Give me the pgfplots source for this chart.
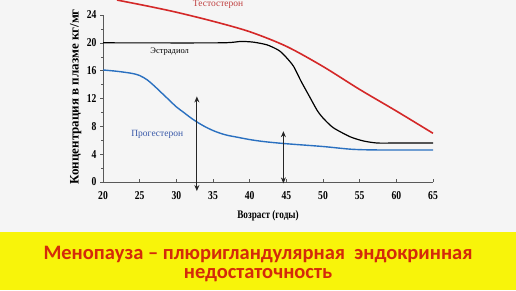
\documentclass[border=0pt]{standalone}
\usepackage{pgfplots}
\pgfplotsset{compat=1.18}
\usetikzlibrary{arrows.meta}
\usepackage{fontspec}
\setmainfont{Liberation Serif}
\newfontfamily\cond[FakeStretch=0.8]{Liberation Serif}
\newfontfamily\titlefont{Carlito}
\definecolor{bg}{HTML}{F5F5F5}
\definecolor{yel}{HTML}{F8F40A}
\definecolor{titred}{HTML}{D42A0A}
\definecolor{lred}{HTML}{D42828}
\definecolor{lblue}{HTML}{2A70C0}
\definecolor{tred}{HTML}{C04040}
\definecolor{tblue}{HTML}{3858A8}
\begin{document}
\begin{tikzpicture}[x=1pt,y=1pt]
\useasboundingbox (0,0) rectangle (516,290);
\fill[bg] (0,0) rectangle (516,290);
\fill[yel] (0,0) rectangle (516,58);
\node[font=\titlefont\bfseries\fontsize{20.5}{21}\selectfont, text=titred, align=center] at (258,25.5) {Менопауза – плюригландулярная\ \ эндокринная\\[-2pt]недостаточность};
\begin{axis}[
  at={(103pt,108pt)}, anchor=south west,
  scale only axis, width=330pt, height=167pt,
  xmin=20, xmax=65, ymin=0, ymax=24,
  clip=false,
  axis lines*=left,
  axis line style={black!65, line width=0.6pt},
  tick style={black!65, line width=0.5pt},
  tick align=outside,
  major tick length=3pt, minor tick length=2pt,
  x tick style={yshift=3pt},
  xtick={20,25,...,65}, ytick={0,4,...,24},
  minor y tick num=1,
  /pgf/number format/assume math mode=true,
  ticklabel style={font=\cond\bfseries\fontsize{12}{14}\selectfont},
  xticklabel style={yshift=-3pt},
  xlabel={Возраст (годы)},
  ylabel={Концентрация в плазме кг/мг},
  xlabel style={font=\cond\bfseries\fontsize{11.5}{13}\selectfont, at={(axis description cs:0.5,-0.2)}, anchor=center},
  ylabel style={font=\bfseries\fontsize{13}{14}\selectfont, at={(axis description cs:-0.083,0.51)}, anchor=center},
]
\addplot[lred, line width=1.6pt, smooth, tension=0.5] coordinates {
(21.9,26.15) (26,25.3) (30,24.4) (35,23.1) (40,21.6) (45,19.5) (50,16.6) (55,13.3) (60,10.2) (65,7.0)};
\addplot[black, line width=1.2pt, smooth, tension=0.4] coordinates {
(20,20) (36,20) (38.7,20.2) (40.5,20.1) (42.4,19.7) (44,18.9) (45,17.9) (46,16.6) (47,14.5) (48.2,12.2) (49.2,10.3) (50,9.2) (51.4,7.8) (53.7,6.5) (55.5,5.9) (57.4,5.6) (60,5.6) (65,5.6)};
\addplot[lblue, line width=1.4pt, smooth, tension=0.5] coordinates {
(20,16.1) (22,15.9) (24,15.6) (25,15.3) (26,14.7) (27,13.8) (28,12.8) (29,11.8) (30,10.8) (31,10.0) (32,9.2) (33,8.5) (34,7.9) (35,7.4) (36,7.0) (37,6.7) (38,6.5) (40,6.1) (42,5.8) (45,5.5) (50,5.1) (54,4.7) (58,4.6) (65,4.6)};
\addplot[black!85, line width=1.2pt, {Stealth[length=6pt,width=5pt]}-{Stealth[length=6pt,width=5pt]}] coordinates {(32.8,12.3) (32.8,-1.3)};
\addplot[black!85, line width=1.2pt, {Stealth[length=6pt,width=5pt]}-{Stealth[length=6pt,width=5pt]}] coordinates {(44.6,7.3) (44.6,-0.2)};
\node[text=tred, font=\fontsize{9.5}{10}\selectfont] at (axis cs:35.7,25.5) {Тестостерон};
\node[text=black, font=\fontsize{8.5}{10}\selectfont] at (axis cs:29.1,18.7) {Эстрадиол};
\node[text=tblue, font=\fontsize{9.5}{10}\selectfont] at (axis cs:27.4,6.9) {Прогестерон};
\end{axis}
\end{tikzpicture}
\end{document}
